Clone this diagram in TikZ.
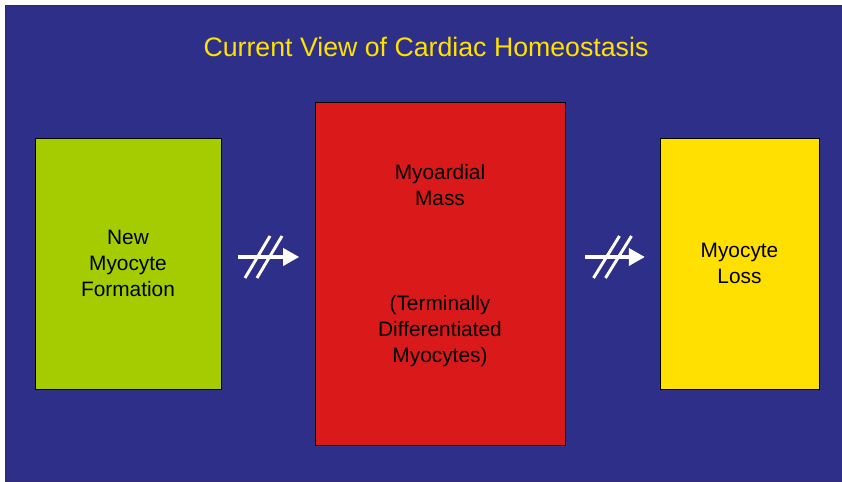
\documentclass[tikz,border=0pt]{standalone}
\usepackage{fontspec}
\setmainfont{Liberation Sans}
\usetikzlibrary{arrows.meta, calc}
\definecolor{slideblue}{RGB}{46, 47, 136}
\definecolor{titleyellow}{RGB}{255, 226, 0}
\definecolor{newgreen}{RGB}{164, 204, 0}
\definecolor{massred}{RGB}{218, 26, 26}
\definecolor{lossyellow}{RGB}{255, 224, 0}

\begin{document}
\begin{tikzpicture}[x=0.03cm, y=-0.03cm,
  every node/.style={font=\fontsize{17.8}{22.4}\selectfont},
  cell/.style={rectangle, draw=black, thin, fill=#1, align=center, inner sep=0pt},
  arr/.style={-{Triangle[length=0.48cm, width=0.52cm]}, white, line width=2.6pt},
  slash/.style={white, line width=2.5pt}
]
\useasboundingbox (0,0) rectangle (842,482);
\draw[draw=black!80, fill=slideblue] (5,5) rectangle (842,481);

\node[text=titleyellow, font=\fontsize{22.8}{26}\selectfont] (title) at (426,47)
  {Current View of Cardiac Homeostasis};

\node[cell=newgreen, minimum width=5.58cm, minimum height=7.53cm] (formation) at (128,263.5)
  {New\\Myocyte\\Formation};
\node[cell=massred, minimum width=7.5cm, minimum height=10.29cm] (mass) at (440,273.5) {};
\node[align=center] (massText) at (440,265.5)
  {Myoardial\\Mass\\[67pt](Terminally\\Differentiated\\Myocytes)};
\node[cell=lossyellow, minimum width=4.77cm, minimum height=7.53cm] (loss) at (739.5,263.5)
  {Myocyte\\Loss};

% blocked arrows
\draw[arr, shorten <=0.51cm, shorten >=0.47cm] (formation.east |- 0,257) -- (mass.west |- 0,257)
  coordinate[midway] (m1);
\draw[arr, shorten <=0.6cm, shorten >=0.45cm] (mass.east |- 0,257) -- (loss.west |- 0,257)
  coordinate[midway] (m2);
\draw[slash] ($(m1)+(-23,21)$) -- ++(25,-42);
\draw[slash] ($(m1)+(-11,21)$) -- ++(25,-42);
\draw[slash] ($(m2)+(-19,21)$) -- ++(26,-42);
\draw[slash] ($(m2)+(-7,21)$) -- ++(26,-42);
\end{tikzpicture}
\end{document}
